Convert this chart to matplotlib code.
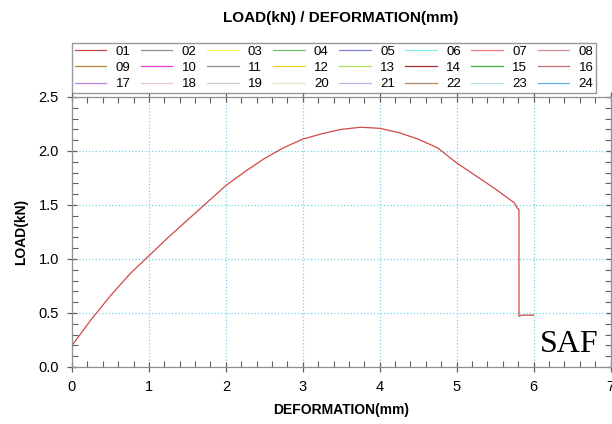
import matplotlib
matplotlib.use("Agg")
import matplotlib.pyplot as plt
from matplotlib.ticker import MultipleLocator

plt.rcParams['font.family'] = ['Liberation Sans', 'DejaVu Sans']

# Data
deformation = [0.0, 0.25, 0.5, 0.75, 1.0, 1.25, 1.5, 1.75, 2.0, 2.25, 2.5, 2.75,
               3.0, 3.25, 3.5, 3.75, 4.0, 4.25, 4.5, 4.75, 5.0, 5.25, 5.5,
               5.75, 5.79, 5.81, 5.81, 5.81, 5.85, 6.0]
load = [0.20, 0.44, 0.66, 0.86, 1.03, 1.20, 1.36, 1.52, 1.68, 1.81, 1.93, 2.03,
        2.11, 2.16, 2.20, 2.22, 2.21, 2.17, 2.11, 2.03, 1.89, 1.77, 1.65,
        1.52, 1.47, 1.46, 1.20, 0.47, 0.48, 0.48]

series_labels = ['01', '02', '03', '04', '05', '06', '07', '08',
                 '09', '10', '11', '12', '13', '14', '15', '16',
                 '17', '18', '19', '20', '21', '22', '23', '24']
series_colors = ['#e87878', '#909090', '#f0f060', '#70c070', '#8080e0', '#80f0f0', '#f08080', '#d09090',
                 '#b08830', '#e040e0', '#909090', '#f0d020', '#b0e060', '#a03030', '#40b040', '#c07070',
                 '#c080e0', '#e8c8c8', '#d0d0d0', '#e8e0c8', '#c0b0f0', '#b08868', '#b8e0f0', '#60b0e8']

fig = plt.figure(figsize=(6.12, 4.24), dpi=100)
ax = fig.add_axes([72/612, 1 - 367/424, (610.5 - 72)/612, (367 - 97)/424])

handles = []
for i, (lab, col) in enumerate(zip(series_labels, series_colors)):
    if i == 0:
        h, = ax.plot(deformation, load, color='#d04848', lw=0.9, label=lab)
    else:
        h, = ax.plot([], [], color=col, lw=0.9, label=lab)
    handles.append(h)

ax.set_xlim(0, 7)
ax.set_ylim(0, 2.5)
ax.xaxis.set_major_locator(MultipleLocator(1))
ax.xaxis.set_minor_locator(MultipleLocator(0.2))
ax.yaxis.set_major_locator(MultipleLocator(0.5))
ax.yaxis.set_minor_locator(MultipleLocator(0.1))
ax.yaxis.set_major_formatter(matplotlib.ticker.FormatStrFormatter('%.1f'))

ax.grid(True, which='major', color='#70d8e0', linestyle=':', linewidth=0.9)
for s in ax.spines.values():
    s.set_color('#909090')
    s.set_linewidth(0.9)
ax.tick_params(which='major', direction='inout', length=7, width=0.9, color='#606060',
               top=True, right=True, labelsize=10.5, pad=6)
ax.tick_params(which='minor', direction='in', length=4, width=0.8, color='#606060',
               top=True, right=True)

ax.set_xlabel('DEFORMATION(mm)', fontsize=10, fontweight='bold', labelpad=6)
ax.set_ylabel('LOAD(kN)', fontsize=10, fontweight='bold', labelpad=7)
fig.text(341/612, 1 - 18/424, 'LOAD(kN) / DEFORMATION(mm)', ha='center', va='center',
         fontsize=11, fontweight='bold')

ax.text(0.977, 0.056, 'SAF', transform=ax.transAxes, ha='right', va='baseline',
        fontsize=23, family='Liberation Serif')

# legend fills column by column; reorder so rows read 01..08, 09..16, 17..24
order = [j + 8 * r for j in range(8) for r in range(3)]
leg = fig.legend(handles=[handles[k] for k in order],
                 labels=[series_labels[k] for k in order], ncol=8,
                 loc='upper left', bbox_to_anchor=(72/612, 1 - 43/424, (596 - 72)/612, 0),
                 mode='expand', fontsize=9.5, handlelength=2.4, handletextpad=0.7,
                 columnspacing=0.8, labelspacing=0.3, borderpad=0.2,
                 fancybox=False, frameon=True, borderaxespad=0)
leg.get_frame().set_edgecolor('#808080')
leg.get_frame().set_linewidth(1.0)

fig.savefig('out.png', dpi=100)
